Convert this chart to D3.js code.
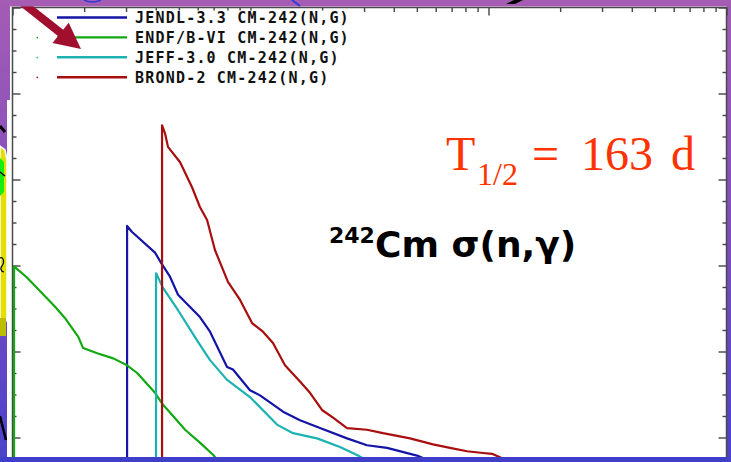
<!DOCTYPE html>
<html lang="en">
<head>
<meta charset="UTF-8">
<title>Cm-242 (n,g) cross section</title>
<script src="https://d3js.org/d3.v7.min.js"></script>
<style>
  body { margin: 0; background: #fff; }
  svg { display: block; }
  .legend-text { font-family: "DejaVu Sans Mono", monospace; font-weight: bold; font-size: 15px; letter-spacing: 1.2px; fill: #111; }
  .axis line { stroke: #454545; stroke-width: 1.4px; }
</style>
</head>
<body>
<div id="chart"></div>
<script>
  // evaluations shown in the legend
  const seriesNames = [
    "JENDL-3.3 CM-242(N,G)",
    "ENDF/B-VI CM-242(N,G)",
    "JEFF-3.0 CM-242(N,G)",
    "BROND-2 CM-242(N,G)"
  ];
  const seriesColors = ["#1414a6", "#12a812", "#1cb2b2", "#a80e0e"];

  // [energy (eV), sigma]
  const jendl = [[303, 0], [303, 3.46], [318, 3.39], [397, 3.15], [421, 3.03], [459, 2.87], [496, 2.66],
    [613, 2.40], [676, 2.23], [797, 1.82], [844, 1.79], [995, 1.55], [1096, 1.49], [1370, 1.30],
    [1614, 1.20], [1959, 1.11], [2544, 0.99], [3087, 0.91], [3746, 0.88], [5007, 0.79], [6255, 0.68]];
  const endf = [[101.5, 0], [101.5, 2.99], [115, 2.86], [151, 2.52], [166, 2.39], [189, 2.17], [198, 2.04],
    [227, 1.98], [265, 1.92], [303, 1.84], [334, 1.75], [397, 1.52], [429, 1.38], [459, 1.29],
    [531, 1.09], [613, 0.94], [696, 0.80], [820, 0.56]];
  const jeff = [[401, 0], [401, 2.91], [429, 2.74], [496, 2.48], [596, 2.13], [676, 1.90], [797, 1.67],
    [995, 1.47], [1292, 1.15], [1509, 1.05], [1903, 0.99], [2378, 0.89], [2829, 0.79], [3336, 0.68]];
  const brond = [[425, 0], [425, 4.63], [437, 4.54], [450, 4.38], [506, 4.20], [568, 3.91], [613, 3.68],
    [657, 3.53], [709, 3.18], [804, 2.81], [904, 2.60], [1015, 2.33], [1128, 2.23], [1243, 2.10],
    [1396, 1.84], [1614, 1.65], [1778, 1.52], [1997, 1.32], [2222, 1.23], [2544, 1.11], [3087, 1.09],
    [3604, 1.05], [4680, 0.99], [5846, 0.92], [6890, 0.88], [8122, 0.84], [9482, 0.82], [10340, 0.81],
    [11180, 0.77], [12920, 0.68]];
  const allSeries = [jendl, endf, jeff, brond];

  const W = 731, H = 462;
  const plot = { left: 12.5, right: 726.5, top: 7.5, bottom: 523.5 };

  const x = d3.scaleLog().domain([100, 1e5]).range([plot.left, plot.right]);
  const y = d3.scaleLinear().domain([0, 6]).range([plot.bottom, plot.top]);

  const svg = d3.select("#chart").append("svg")
    .attr("width", W).attr("height", H);

  const defs = svg.append("defs");
  const grad = defs.append("linearGradient").attr("id", "side").attr("x1", 0).attr("y1", 0).attr("x2", 0).attr("y2", 1);
  grad.append("stop").attr("offset", "0%").attr("stop-color", "#a45cb4");
  grad.append("stop").attr("offset", "55%").attr("stop-color", "#7a4cc0");
  grad.append("stop").attr("offset", "100%").attr("stop-color", "#4a42cc");
  defs.append("clipPath").attr("id", "clip").append("rect")
    .attr("x", plot.left).attr("y", plot.top)
    .attr("width", plot.right - plot.left).attr("height", 457 - plot.top);

  // slide background pieces around the plot
  svg.append("rect").attr("x", 0).attr("y", 0).attr("width", W).attr("height", H).attr("fill", "#fff");
  svg.append("path").attr("d", "M0,0H10V100H7V462H0Z").attr("fill", "url(#side)");
  svg.append("rect").attr("x", 727).attr("y", 0).attr("width", 4).attr("height", H).attr("fill", "url(#side)");
  // badge peeking in at the left edge
  svg.append("path").attr("d", "M0,146L5,150L7,160V318L5,324L0,330Z").attr("fill", "#e2e000").attr("stroke", "#fff").attr("stroke-width", 1.5);
  svg.append("path").attr("d", "M0,158L4,162V192L0,196Z").attr("fill", "#12ee12");
  svg.append("rect").attr("x", 0).attr("y", 318).attr("width", 6).attr("height", 18).attr("fill", "#bcbc00");
  svg.append("path").attr("d", "M0,126L5,132").attr("stroke", "#000").attr("stroke-width", 3);
  svg.append("path").attr("d", "M0,172L5,176").attr("stroke", "#000").attr("stroke-width", 1.5);
  svg.append("path").attr("d", "M0,258C3,256 5,262 2,266C0,268 1,272 4,272").attr("stroke", "#000").attr("fill", "none").attr("stroke-width", 1.2);
  svg.append("path").attr("d", "M0,416L6,440").attr("stroke", "#000").attr("stroke-width", 2.5);

  // plot frame
  svg.append("rect")
    .attr("x", plot.left).attr("y", plot.top)
    .attr("width", plot.right - plot.left).attr("height", plot.bottom - plot.top)
    .attr("fill", "#fff").attr("stroke", "#4a4a4a").attr("stroke-width", 1.5);

  // ticks: log minor ticks on top, linear ticks on left/right
  const xMajor = [100, 1000, 10000, 100000];
  const xMinor = [];
  [100, 1000, 10000].forEach(d => { for (let k = 2; k <= 9; k++) xMinor.push(d * k); });
  const yMajor = d3.range(0, 7, 1);
  const yMinor = d3.range(0, 6.01, 0.25).filter(v => Math.abs(v - Math.round(v)) > 0.01);

  function addAxis(axis) {
    const g = svg.append("g").attr("class", "axis").call(axis);
    g.select(".domain").remove();
    return g;
  }
  addAxis(d3.axisTop(x).tickValues(xMinor).tickSize(-4.5).tickFormat("")).attr("transform", `translate(0,${plot.top})`);
  addAxis(d3.axisTop(x).tickValues(xMajor).tickSize(-8).tickFormat("")).attr("transform", `translate(0,${plot.top})`);
  addAxis(d3.axisLeft(y).tickValues(yMinor).tickSize(-4).tickFormat("")).attr("transform", `translate(${plot.left},0)`);
  addAxis(d3.axisLeft(y).tickValues(yMajor).tickSize(-8).tickFormat("")).attr("transform", `translate(${plot.left},0)`);
  addAxis(d3.axisRight(y).tickValues(yMinor).tickSize(-4).tickFormat("")).attr("transform", `translate(${plot.right},0)`);
  addAxis(d3.axisRight(y).tickValues(yMajor).tickSize(-8).tickFormat("")).attr("transform", `translate(${plot.right},0)`);

  // curves
  const line = d3.line().x(d => x(d[0])).y(d => y(d[1]));
  const curves = svg.append("g").attr("clip-path", "url(#clip)");
  allSeries.forEach((s, i) => {
    curves.append("path")
      .datum(s)
      .attr("d", line)
      .attr("fill", "none")
      .attr("stroke", seriesColors[i])
      .attr("stroke-width", 2.2)
      .attr("stroke-linejoin", "round");
  });

  // legend
  const legend = svg.append("g");
  seriesNames.forEach((name, i) => {
    const ly = 17.5 + i * 19.9;
    const t = legend.append("text")
      .attr("class", "legend-text")
      .attr("x", 135).attr("y", ly + 5.5)
      .text(name);
    if (i === 0) {
      const w = t.node().getComputedTextLength();
      legend.insert("rect", "text").attr("x", 133).attr("y", ly - 7).attr("width", w + 4).attr("height", 14).attr("fill", "#fff");
    }
    legend.append("line")
      .attr("x1", 57).attr("x2", 127).attr("y1", ly).attr("y2", ly)
      .attr("stroke", seriesColors[i]).attr("stroke-width", 2.4);
    if (i > 0) {
      legend.append("rect").attr("x", 36.5).attr("y", ly - 0.5).attr("width", 1.5).attr("height", 1.5)
        .attr("fill", seriesColors[i]);
    }
  });

  // annotations
  const half = svg.append("text")
    .attr("y", 170)
    .style("font-family", "'Liberation Serif', 'Times New Roman', serif")
    .style("font-size", "48px")
    .attr("fill", "#ff3300");
  half.append("tspan").attr("x", 446).text("T");
  half.append("tspan").attr("x", 477).attr("y", 185).style("font-size", "32px").text("1/2");
  half.append("tspan").attr("x", 532).attr("y", 170).text("=");
  half.append("tspan").attr("x", 581).text("163");
  half.append("tspan").attr("x", 671).text("d");

  const iso = svg.append("text")
    .attr("y", 257)
    .style("font-family", "'DejaVu Sans', Verdana, sans-serif")
    .style("font-weight", "bold")
    .attr("fill", "#000");
  iso.append("tspan").attr("x", 329).attr("y", 243).style("font-size", "22px").text("242");
  iso.append("tspan").attr("x", 375).attr("y", 257).style("font-size", "36px").text("Cm σ(n,γ)");

  // red arrow pointing at the legend
  svg.append("line")
    .attr("x1", 3.3).attr("y1", -12.4).attr("x2", 62).attr("y2", 34)
    .attr("stroke", "#a0102e").attr("stroke-width", 8);
  svg.append("path")
    .attr("d", "M81,49L52.5,43.1L68.7,22.7Z")
    .attr("fill", "#a0102e");

  // slide bars on top and bottom
  svg.append("rect").attr("x", 10).attr("y", 0).attr("width", 717).attr("height", 6.5).attr("fill", "#a45db2");
  svg.append("path").attr("d", "M84,0Q92,4 101,0").attr("stroke", "#2a3ad8").attr("fill", "none").attr("stroke-width", 1.5);
  svg.append("path").attr("d", "M292,0Q296,3 300,6").attr("stroke", "#2a3ad8").attr("fill", "none").attr("stroke-width", 1.8);
  svg.append("path").attr("d", "M506,4L514,0H523L515,4Z").attr("fill", "#000");
  svg.append("rect").attr("x", 0).attr("y", 457).attr("width", 727).attr("height", 5).attr("fill", "#3e3ec8");
</script>
</body>
</html>
